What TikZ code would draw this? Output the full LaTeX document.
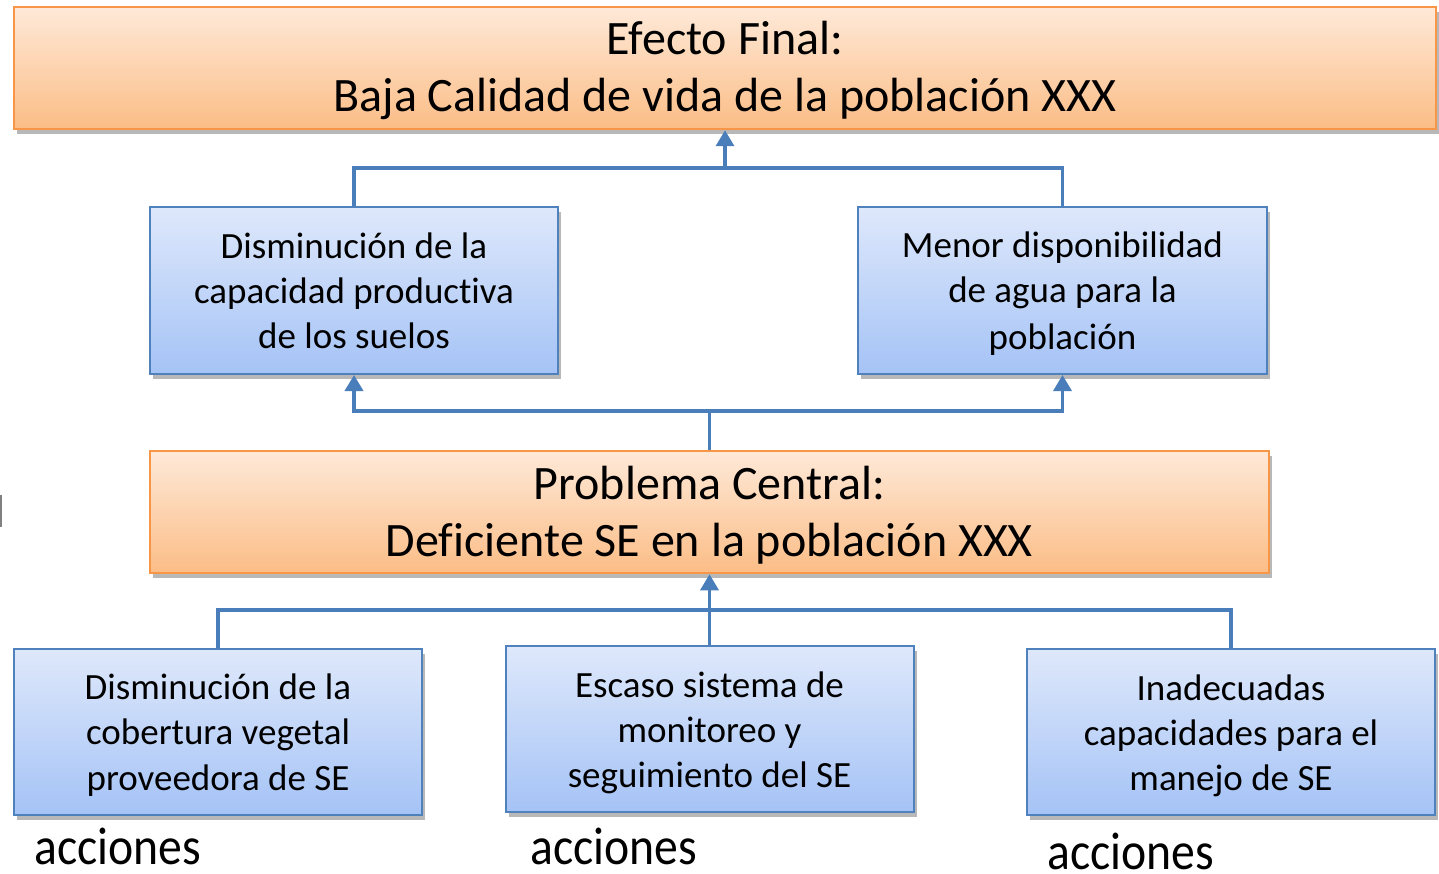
\documentclass[tikz,border=0pt]{standalone}
\usepackage{fontspec}
\setmainfont{Carlito}[Ligatures=NoCommon]
\newfontfamily\accfont{Carlito}[FakeStretch=0.9,Ligatures=NoCommon]
\usetikzlibrary{arrows.meta,shadows}
\definecolor{conncol}{HTML}{4A7EBB}
\definecolor{orgborder}{HTML}{F79646}
\definecolor{orgtop}{HTML}{FEE9D8}
\definecolor{orgbot}{HTML}{FBBD86}
\definecolor{bluborder}{HTML}{4F81BD}
\definecolor{blutop}{HTML}{DEE8FB}
\definecolor{blubot}{HTML}{A5C3F6}
\newcommand\ostrut{\rule[-12pt]{0pt}{55pt}}
\newcommand\bstrut{\rule[-13pt]{0pt}{52pt}}
\tikzset{
  boxshadow/.style={drop shadow={shadow xshift=3pt,shadow yshift=-5pt,fill=black,opacity=0.28}},
  orgbox/.style={draw=orgborder,line width=2.5pt,top color=orgtop,bottom color=orgbot,
    boxshadow,align=center,inner sep=0pt,font=\fontsize{48}{57}\selectfont},
  blubox/.style={draw=bluborder,line width=2pt,top color=blutop,bottom color=blubot,
    boxshadow,align=center,inner sep=0pt,font=\fontsize{37}{45}\selectfont},
  conn/.style={draw=conncol,line width=3.5pt},
  arr/.style={conn,-{Triangle[length=16pt,width=18pt]}},
  acc/.style={font=\accfont\fontsize{53}{56}\selectfont,inner sep=0pt,anchor=base west}
}
\begin{document}
\begin{tikzpicture}[x=1pt,y=-1pt]
\useasboundingbox[fill=white] (0,0) rectangle (1439,874);
\fill[gray] (0,495) rectangle (2,527);
\node[orgbox,minimum width=1422pt,minimum height=122pt] (top) at (725,68)
  {\ostrut Efecto Final:\\\ostrut Baja Calidad de vida de la población XXX};
\node[blubox,minimum width=408pt,minimum height=167pt] (ml) at (354,290.5)
  {\bstrut Disminución de la\\capacidad productiva\\\bstrut de los suelos};
\node[blubox,minimum width=409pt,minimum height=167pt] (mr) at (1062.5,290.5)
  {\bstrut Menor disponibilidad\\de agua para la\\\bstrut población};
\node[orgbox,minimum width=1119pt,minimum height=122pt] (cen) at (709.5,512)
  {\ostrut Problema Central:\\\ostrut Deficiente SE en la población XXX};
\node[blubox,minimum width=408pt,minimum height=166pt] (bl) at (218,732)
  {\bstrut Disminución de la\\cobertura vegetal\\\bstrut proveedora de SE};
\node[blubox,minimum width=408pt,minimum height=166pt] (bm) at (709.5,729)
  {\bstrut Escaso sistema de\\monitoreo y\\\bstrut seguimiento del SE};
\node[blubox,minimum width=408pt,minimum height=166pt] (br) at (1231,732)
  {\bstrut Inadecuadas\\capacidades para el\\\bstrut manejo de SE};
\node[acc] (a1) at (34,864) {acciones};
\node[acc] (a2) at (530,864) {acciones};
\node[acc] (a3) at (1047,869) {acciones};
\coordinate (j1) at (725,168);
\coordinate (j2) at (709.5,411);
\coordinate (j3) at (709.5,610);
\draw[conn] (ml.north) |- (j1) -| (mr.north);
\draw[arr] (j1) -- (top.south);
\draw[conn] (cen.north) -- (j2);
\draw[arr] (j2) -| (ml.south);
\draw[arr] (j2) -| (mr.south);
\draw[conn] (bl.north) |- (j3) -| (br.north);
\draw[arr] (bm.north) -- (cen.south);
\end{tikzpicture}
\end{document}
